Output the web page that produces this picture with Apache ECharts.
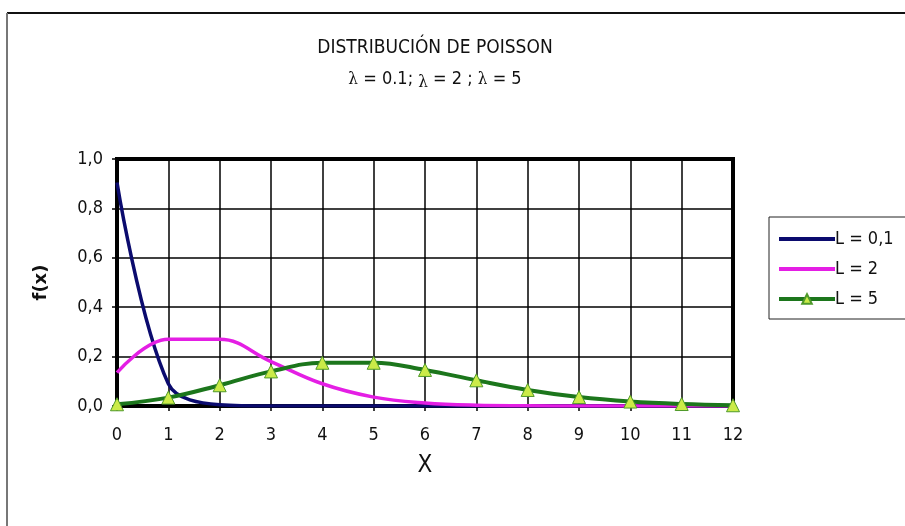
<!DOCTYPE html>
<html>
<head>
<meta charset="utf-8">
<script src="https://cdn.jsdelivr.net/npm/echarts@6/dist/echarts.min.js"></script>
<style>
  html, body { margin: 0; padding: 0; background: #fff; }
  #chart { width: 905px; height: 526px; }
</style>
</head>
<body>
<div id="chart"></div>
<script>
// valores
var xLabels = ['0', '1', '2', '3', '4', '5', '6', '7', '8', '9', '10', '11', '12'];
var lambda01 = [0.905, 0.09, 0.005, 0, 0, 0, 0, 0, 0, 0, 0, 0, 0];
var lambda2 = [0.135, 0.27, 0.27, 0.18, 0.09, 0.036, 0.012, 0.003, 0.001, 0, 0, 0, 0];
var lambda5 = [0.007, 0.034, 0.084, 0.14, 0.175, 0.175, 0.146, 0.104, 0.065, 0.036, 0.018, 0.008, 0.003];
var seriesNames = ['L = 0,1', 'L = 2', 'L = 5'];

var font = "'DejaVu Sans', sans-serif";
var narrow = 'normal condensed'; // ancho estrecho, como Arial Narrow
var chart = echarts.init(document.getElementById('chart'));

var option = {
  backgroundColor: '#fff',
  animation: false,
  title: {
    text: 'DISTRIBUCIÓN DE POISSON',
    subtext: '{l|λ} = 0.1; {s|λ} = 2 ; {l|λ} = 5',
    left: 430,
    textAlign: 'center',
    top: 34,
    itemGap: 10,
    textStyle: { fontFamily: font, fontSize: 19, fontWeight: narrow, color: '#111' },
    subtextStyle: {
      fontFamily: font, fontSize: 18, fontWeight: narrow, color: '#111',
      rich: {
        l: { fontFamily: 'DejaVu Serif', fontSize: 17, color: '#111' },
        s: { fontFamily: 'DejaVu Serif', fontSize: 17, color: '#111', verticalAlign: 'bottom', padding: [6, 0, 0, 0] }
      }
    }
  },
  legend: {
    orient: 'vertical',
    left: 772,
    top: 225,
    itemWidth: 56,
    itemHeight: 12,
    itemGap: 12,
    data: [
      { name: seriesNames[0], itemStyle: { opacity: 0 }, lineStyle: { width: 4 } },
      { name: seriesNames[1], itemStyle: { opacity: 0 }, lineStyle: { width: 4 } },
      { name: seriesNames[2], lineStyle: { width: 4 } }
    ],
    textStyle: { fontFamily: font, fontSize: 18, fontWeight: narrow, color: '#111', padding: [0, 0, 0, -5] }
  },
  graphic: [
    { type: 'line', shape: { x1: 7, y1: 13, x2: 905, y2: 13 }, style: { stroke: '#111', lineWidth: 2 } },
    { type: 'line', shape: { x1: 7, y1: 13, x2: 7, y2: 526 }, style: { stroke: '#777', lineWidth: 2 } },
    { type: 'rect', shape: { x: 769, y: 217, width: 200, height: 102 }, style: { fill: 'none', stroke: '#222', lineWidth: 1 }, z: -1 }
  ],
  grid: {
    left: 117,
    top: 159,
    width: 616,
    height: 247,
    show: true,
    borderColor: '#000',
    borderWidth: 4,
    containLabel: false
  },
  xAxis: {
    type: 'category',
    data: xLabels,
    boundaryGap: false,
    name: 'X',
    nameLocation: 'middle',
    nameGap: 48,
    nameTextStyle: { fontFamily: font, fontSize: 24, fontWeight: narrow, color: '#111' },
    axisLine: { lineStyle: { color: '#000', width: 2 } },
    axisTick: { show: true, inside: false, length: 5, lineStyle: { color: '#000', width: 1.5 } },
    axisLabel: { fontFamily: font, fontSize: 18, fontWeight: narrow, color: '#111', margin: 20, interval: 0 },
    splitLine: { show: true, interval: 0, lineStyle: { color: '#000', width: 1.5 } }
  },
  yAxis: {
    type: 'value',
    min: 0,
    max: 1,
    interval: 0.2,
    name: 'f(x)',
    nameLocation: 'middle',
    nameGap: 67,
    nameTextStyle: { fontFamily: font, fontSize: 18, fontWeight: 'bold', color: '#111' },
    axisLine: { show: true, lineStyle: { color: '#000', width: 4 } },
    axisTick: { show: true, inside: false, length: 5, lineStyle: { color: '#000', width: 1.5 } },
    axisLabel: {
      fontFamily: font, fontSize: 18, fontWeight: narrow, color: '#111', margin: 14,
      formatter: function (v) { return v.toFixed(1).replace('.', ','); }
    },
    splitLine: { show: true, lineStyle: { color: '#000', width: 1.5 } }
  },
  series: [
    {
      name: seriesNames[0],
      type: 'line',
      data: lambda01,
      smooth: 0.35,
      symbol: 'none',
      lineStyle: { color: '#0b0b6e', width: 3.5 },
      itemStyle: { color: '#0b0b6e' },
      z: 3
    },
    {
      name: seriesNames[1],
      type: 'line',
      data: lambda2,
      smooth: 0.4,
      symbol: 'none',
      lineStyle: { color: '#e41ee4', width: 3.5 },
      itemStyle: { color: '#e41ee4' },
      z: 4
    },
    {
      name: seriesNames[2],
      type: 'line',
      data: lambda5,
      smooth: 0.4,
      symbol: 'triangle',
      symbolSize: 13,
      showAllSymbol: true,
      lineStyle: { color: '#1c761c', width: 4 },
      itemStyle: { color: '#cbeb48', borderColor: '#4f9a2a', borderWidth: 1 },
      z: 5
    }
  ]
};

chart.setOption(option);
</script>
</body>
</html>
